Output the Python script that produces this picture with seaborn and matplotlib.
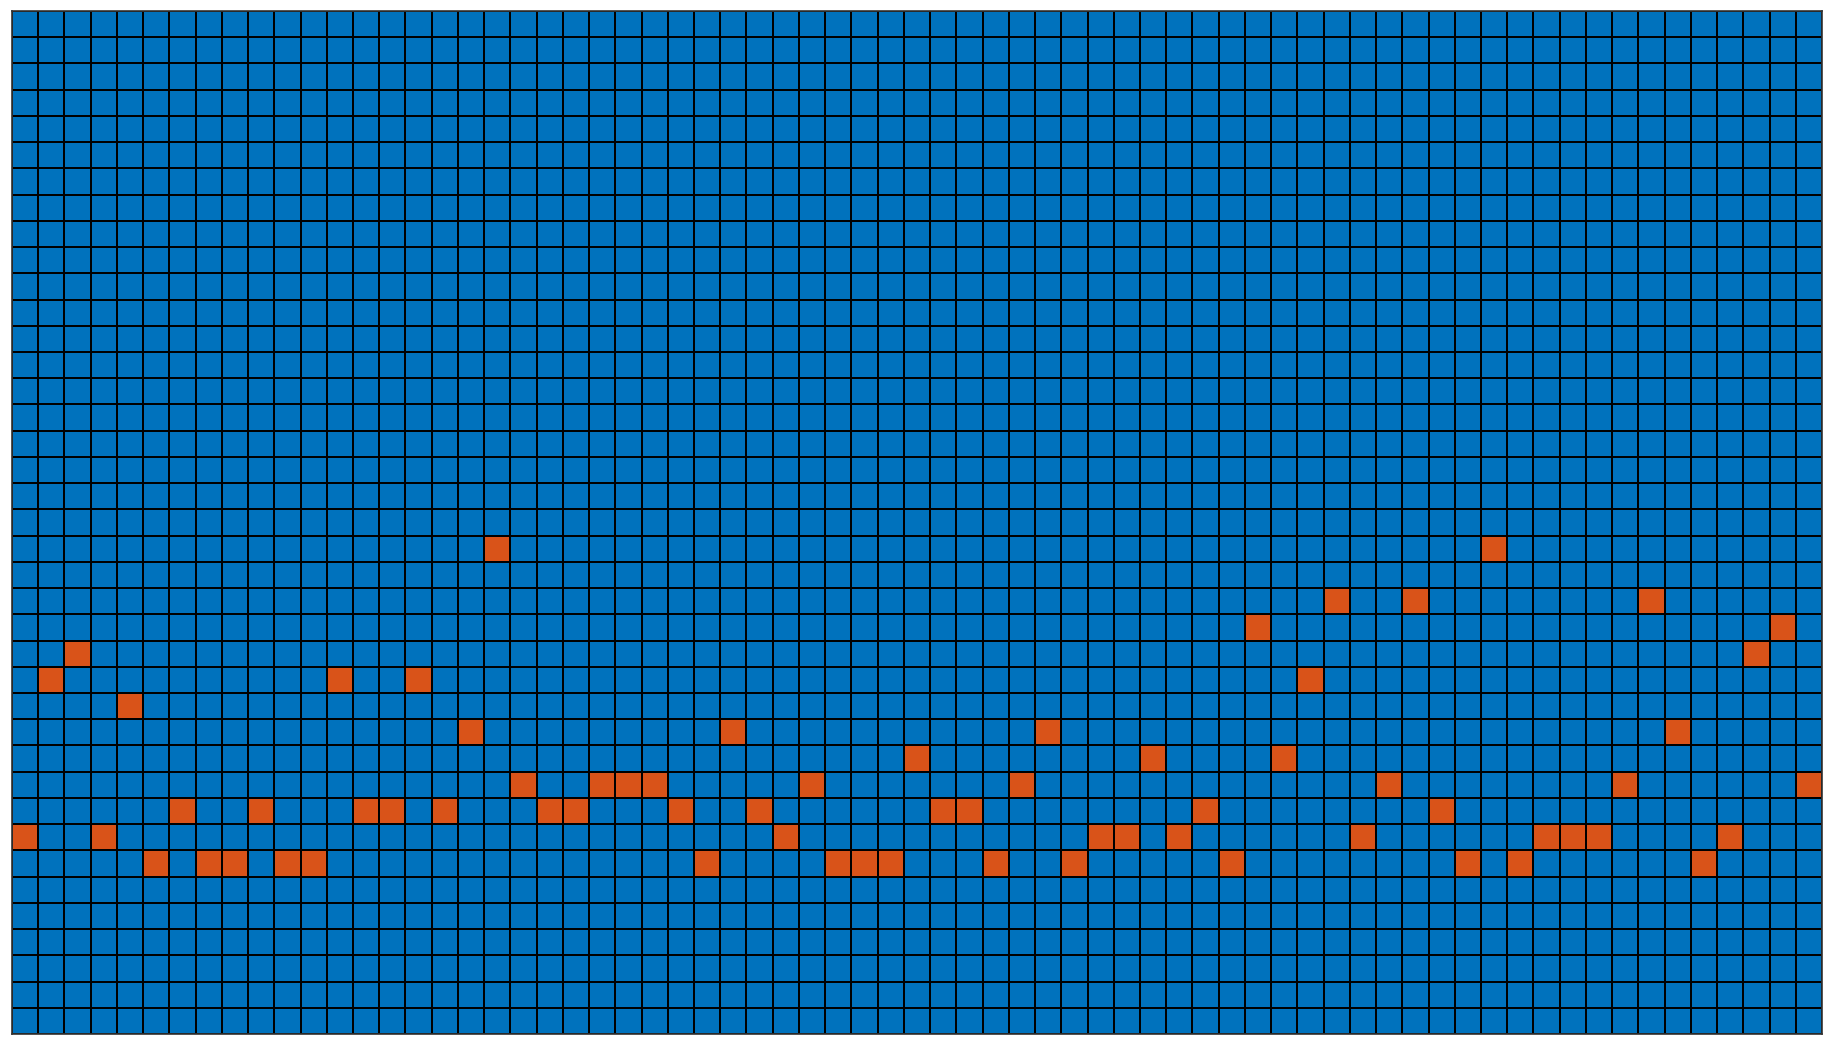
import numpy as np
import pandas as pd
import seaborn as sns
import matplotlib.pyplot as plt
from matplotlib.colors import ListedColormap

# grid size
n_rows = 39
n_cols = 69

# row (counted from the top) of the highlighted cell in each column
orange_row = [31, 25, 24, 31, 26, 32, 30, 32, 32, 30,
              32, 32, 25, 30, 30, 25, 30, 27, 20, 29,
              30, 30, 29, 29, 29, 30, 32, 27, 30, 31,
              29, 32, 32, 32, 28, 30, 30, 32, 29, 27,
              32, 31, 31, 28, 31, 30, 32, 23, 28, 25,
              22, 31, 29, 22, 30, 32, 20, 32, 31, 31,
              31, 29, 22, 27, 32, 31, 24, 23, 29]

blue = '#0072BD'
orange = '#D95319'

grid = np.zeros((n_rows, n_cols))
for col, row in enumerate(orange_row):
    grid[row, col] = 1
grid_df = pd.DataFrame(grid)

fig = plt.figure(figsize=(18.35, 10.5), dpi=100)
ax = fig.add_axes([12 / 1835, 16 / 1050, 1810 / 1835, 1023 / 1050])

sns.heatmap(
    grid_df,
    ax=ax,
    cmap=ListedColormap([blue, orange]),
    vmin=0, vmax=1,
    linewidths=1.2,
    linecolor='black',
    cbar=False,
    xticklabels=False,
    yticklabels=False,
    square=False
)

for side in ['top', 'bottom', 'left', 'right']:
    ax.spines[side].set_visible(True)
    ax.spines[side].set_color('#333333')
    ax.spines[side].set_linewidth(1.2)

ax.set_xlabel('')
ax.set_ylabel('')

plt.savefig('out.png', dpi=100)
plt.close()
